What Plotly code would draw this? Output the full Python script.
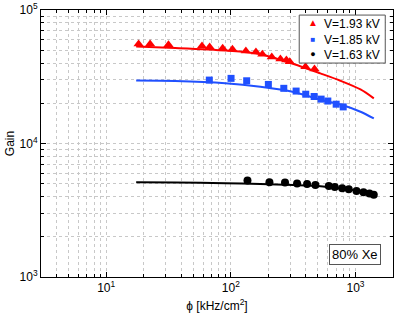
import plotly.graph_objects as go

# --- data ---
red_x = [18.2, 22.5, 31.6, 58.7, 67.6, 86, 103, 132, 159, 179, 213, 250, 279, 297, 397, 469]
red_y = [55600, 55600, 54900, 53700, 52800, 51800, 50900, 49200, 48400, 46600, 44400, 42900, 42200, 41000, 37600, 36100]
blue_x = [67.2, 100.4, 134, 200, 266, 334, 399, 466, 530, 600, 700, 797]
blue_y = [29850, 30750, 29500, 27700, 25900, 24700, 23400, 22500, 21500, 20800, 19700, 18800]
black_x = [136, 204, 272, 340, 409, 477, 611, 682, 782, 883, 1019, 1159, 1295, 1402]
black_y = [5280, 5130, 5100, 5010, 4980, 4895, 4810, 4725, 4620, 4540, 4410, 4310, 4220, 4140]

# fitted curves
fit_x = [17.4, 35.8, 90.3, 172.5, 319, 523, 758, 1097, 1403]
red_fit = [53200, 51900, 49700, 46700, 39400, 33500, 29500, 25400, 21800]
blue_fit = [29600, 29400, 28300, 26600, 24300, 21300, 19600, 17300, 15400]
black_fit = [5130, 5100, 5040, 4980, 4890, 4790, 4600, 4400, 4170]

labels = ["V=1.93 kV", "V=1.85 kV", "V=1.63 kV"]
colors = ["#ff0000", "#2050ff", "#000000"]
legend_glyphs = ["▲", "■", "●"]
glyph_sizes = [10, 8, 9]

x_tickvals = [10, 100, 1000]
x_ticktext = ["10<sup>1</sup>", "10<sup>2</sup>", "10<sup>3</sup>"]
y_tickvals = [1000, 10000, 100000]
y_ticktext = ["10<sup>3</sup>", "10<sup>4</sup>", "10<sup>5</sup>"]

fig = go.Figure()
for fy, c in zip([red_fit, blue_fit, black_fit], colors):
    fig.add_trace(go.Scatter(x=fit_x, y=fy, mode="lines", line=dict(color=c, width=2, shape="spline", smoothing=0.8),
                             showlegend=False, hoverinfo="skip"))

fig.add_trace(go.Scatter(x=red_x, y=red_y, mode="markers", name=labels[0], showlegend=False,
                         marker=dict(symbol="triangle-up", size=9, color=colors[0])))
fig.add_trace(go.Scatter(x=blue_x, y=blue_y, mode="markers", name=labels[1], showlegend=False,
                         marker=dict(symbol="square", size=7, color=colors[1])))
fig.add_trace(go.Scatter(x=black_x, y=black_y, mode="markers", name=labels[2], showlegend=False,
                         marker=dict(symbol="circle", size=8, color=colors[2])))

axis_common = dict(
    type="log", showline=True, linecolor="black", linewidth=1, mirror="ticks",
    ticks="inside", ticklen=5, tickcolor="black", automargin=False,
    showgrid=True, gridcolor="#c8c8c8", griddash="dot", gridwidth=1,
    minor=dict(dtick="D1", ticks="inside", ticklen=3, tickcolor="black", showgrid=True,
               gridcolor="#c8c8c8", griddash="dot", gridwidth=1),
    zeroline=False, tickfont=dict(size=12, color="black"),
)

fig.update_xaxes(**axis_common, range=[0.477, 3.301], tickmode="array",
                 tickvals=x_tickvals, ticktext=x_ticktext,
                 title=dict(text="ϕ [kHz/cm<sup>2</sup>]", font=dict(size=12, color="black"), standoff=7))
fig.update_yaxes(**axis_common, range=[3, 5], tickmode="array",
                 tickvals=y_tickvals, ticktext=y_ticktext,
                 title=dict(text="Gain", font=dict(size=12, color="black"), standoff=2))

# legend: framed box + entry texts + coloured symbols
fig.add_shape(type="rect", xref="paper", yref="paper", x0=0.7336, x1=0.978, y0=0.8013, y1=0.981,
              line=dict(color="#555", width=1), fillcolor="white", layer="above")
fig.add_annotation(text="<br>".join(labels), xref="paper", yref="paper", x=0.799, y=0.981,
                   xanchor="left", yanchor="top", align="left", showarrow=False,
                   font=dict(size=12, color="black"), borderpad=1)
glyph_text = "<br>".join(f"<span style='color:{c};font-size:{s}px'>{g}</span>"
                         for g, c, s in zip(legend_glyphs, colors, glyph_sizes))
fig.add_annotation(text=glyph_text, xref="paper", yref="paper", x=0.774, y=0.981,
                   xanchor="center", yanchor="top", align="center", showarrow=False,
                   font=dict(size=12, color="black"), borderpad=1)

fig.add_annotation(text="80% Xe", xref="paper", yref="paper", x=0.893, y=0.086,
                   xanchor="center", yanchor="middle",
                   showarrow=False, font=dict(size=13, color="black"),
                   bordercolor="#555", borderwidth=1, borderpad=2, bgcolor="white")

fig.update_layout(
    width=409, height=315,
    margin=dict(l=41, r=16, t=10, b=38),
    paper_bgcolor="white", plot_bgcolor="white",
    font=dict(family="Liberation Sans, Arial, sans-serif", size=12, color="black"),
    showlegend=False,
)

fig.write_html("out.html", config={"displayModeBar": False},
               post_script="document.body.style.margin='0px';")
